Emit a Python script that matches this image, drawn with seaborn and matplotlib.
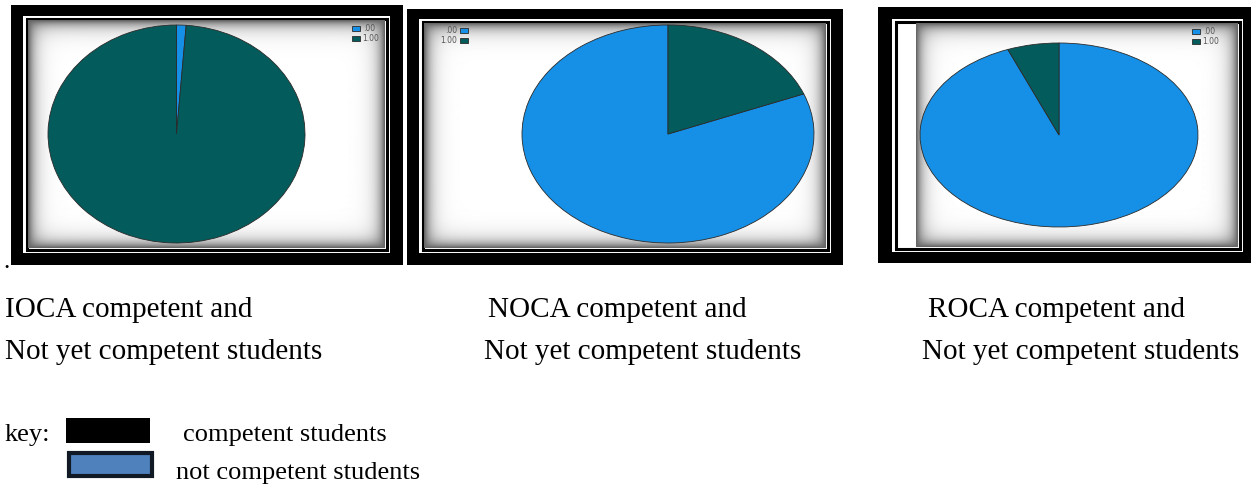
import numpy as np
import matplotlib
matplotlib.use("Agg")
import matplotlib.pyplot as plt
import matplotlib.patches as mpatches
import seaborn as sns

# ---- data ----
panels = ["IOCA", "NOCA", "ROCA"]
categories = [".00", "1.00"]
ioca_values = [1.2, 98.8]
noca_values = [81.0, 19.0]
roca_values = [94.0, 6.0]
captions_line1 = ["IOCA competent and", "NOCA competent and", "ROCA competent and"]
captions_line2 = ["Not yet competent students"] * 3
key_labels = ["competent students", "not competent students"]

sns.set_theme(style="white")
plt.rcParams['font.family'] = ['Liberation Serif', 'DejaVu Serif']
plt.rcParams['text.color'] = 'black'

W, H = 1251, 486
fig = plt.figure(figsize=(W / 100, H / 100), dpi=100)
fig.patch.set_facecolor("white")

bg = fig.add_axes([0, 0, 1, 1])
bg.set_xlim(0, W)
bg.set_ylim(H, 0)
bg.axis("off")

pie_colors = ["#1590E6", "#035C5B"]


def vignette(w, h, width=7.0, strength=0.6):
    x = np.arange(w)
    y = np.arange(h)
    dx = np.minimum(x, w - 1 - x)
    dy = np.minimum(y, h - 1 - y)
    sx = np.exp(-dx / width)
    sy = np.exp(-dy / width)
    s = 1 - (1 - sx[None, :]) * (1 - sy[:, None])
    return 1 - strength * s


def frame(x0, y0, x1, y1, inner, plain_left=None):
    bg.add_patch(mpatches.Rectangle((x0, y0), x1 - x0, y1 - y0, fc="black", ec="none", zorder=1))
    ix0, iy0, ix1, iy1 = inner
    bg.add_patch(mpatches.Rectangle((ix0 - 5, iy0 - 5), ix1 - ix0 + 10, iy1 - iy0 + 10,
                                    fc="white", ec="none", zorder=2))
    bg.add_patch(mpatches.Rectangle((ix0 - 1.5, iy0 - 1.5), ix1 - ix0 + 3, iy1 - iy0 + 3,
                                    fc="white", ec="black", lw=2.2, zorder=3))
    vx0 = plain_left if plain_left is not None else ix0
    img = vignette(int(ix1 - vx0), int(iy1 - iy0))
    bg.imshow(img, cmap="gray", vmin=0, vmax=1, extent=(vx0, ix1, iy1, iy0),
              aspect="auto", zorder=4, interpolation="bilinear")


# frames: outer box, inner box
frame(11, 5, 403, 265, (28, 21, 385, 248))
frame(407, 9, 843, 265, (424, 24, 826, 248))
frame(878, 7, 1251, 263, (897, 24, 1238, 247), plain_left=916)

# pies: bounding boxes in pixels (x0, y0, x1, y1)
pie_boxes = [(48, 25, 305, 243), (522, 25, 814, 243), (920, 43, 1198, 227)]
values_all = [ioca_values, noca_values, roca_values]
counterclocks = [False, True, False]
legend_pos = [(352, 24), (468, 26), (1192, 27)]
marker_first = [True, False, True]

for i, (box, vals) in enumerate(zip(pie_boxes, values_all)):
    x0, y0, x1, y1 = box
    ax = fig.add_axes([x0 / W, 1 - y1 / H, (x1 - x0) / W, (y1 - y0) / H])
    ax.set_zorder(5)
    ax.patch.set_alpha(0)
    wedges, _ = ax.pie(vals, colors=pie_colors, startangle=90,
                       counterclock=counterclocks[i],
                       wedgeprops=dict(edgecolor="#2a2a2a", linewidth=0.6))
    ax.set_aspect("auto")
    ax.set_xlim(-1, 1)
    ax.set_ylim(-1, 1)
    ax.axis("off")
    for wdg in wedges:
        wdg.set_clip_on(False)
    lx, ly = legend_pos[i]
    leg = ax.legend(wedges, categories, loc="upper right" if not marker_first[i] else "upper left",
                    bbox_to_anchor=(lx / W, 1 - ly / H), bbox_transform=fig.transFigure,
                    frameon=False, handlelength=1.0, handleheight=0.7,
                    handletextpad=0.4, labelspacing=0.15, borderpad=0, borderaxespad=0,
                    markerfirst=marker_first[i], prop={"family": "DejaVu Sans", "size": 5.5})
    for t in leg.get_texts():
        t.set_color("#555555")

# stray period
fig.text(3 / W, 1 - 262 / H, ".", fontsize=18, ha="left", va="center", color="black")

# captions
cap_x1 = [5, 488, 928]
cap_x2 = [5, 484, 922]
for i in range(3):
    fig.text(cap_x1[i] / W, 1 - 310 / H, captions_line1[i], fontsize=21,
             ha="left", va="center", color="black")
    fig.text(cap_x2[i] / W, 1 - 352 / H, captions_line2[i], fontsize=21,
             ha="left", va="center", color="black")

# key
fig.text(5 / W, 1 - 435 / H, "key:", fontsize=19, ha="left", va="center", color="black")
bg.add_patch(mpatches.Rectangle((66, 418), 84, 25, fc="black", ec="none", zorder=2))
bg.add_patch(mpatches.Rectangle((68.5, 452.5), 83, 23, fc="#4F81BD", ec="#111A24", lw=3, zorder=2))
fig.text(183 / W, 1 - 435 / H, key_labels[0], fontsize=19, ha="left", va="center", color="black")
fig.text(176 / W, 1 - 473 / H, key_labels[1], fontsize=19, ha="left", va="center", color="black")

fig.savefig("out.png", dpi=100, facecolor="white")
